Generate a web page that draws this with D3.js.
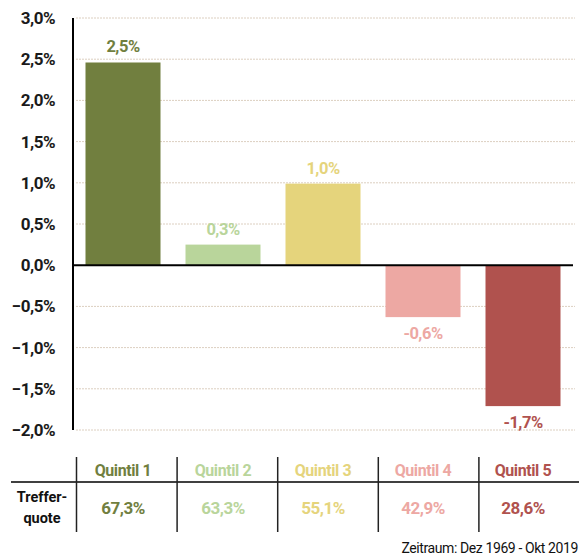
<!DOCTYPE html>
<html>
<head>
<meta charset="utf-8">
<script src="https://cdn.jsdelivr.net/npm/d3@7"></script>
<style>
  body { margin: 0; background: #fff; }
  svg { font-family: "Roboto", "Noto Sans", sans-serif; }
</style>
</head>
<body>
<div id="chart"></div>
<script>
// chart data
var quintils = ["Quintil 1", "Quintil 2", "Quintil 3", "Quintil 4", "Quintil 5"];
var returns = [2.46, 0.25, 0.99, -0.63, -1.71];
var returnLabels = ["2,5%", "0,3%", "1,0%", "-0,6%", "-1,7%"];
var hitRates = ["67,3%", "63,3%", "55,1%", "42,9%", "28,6%"];
var yTicks = [3, 2.5, 2, 1.5, 1, 0.5, 0, -0.5, -1, -1.5, -2];
var colours = ["#717f3f", "#b9d59b", "#e5d47c", "#eda8a3", "#b0524e"];

var width = 579, height = 555;
var plot = {left: 73, right: 573, top: 18, bottom: 430};

var svg = d3.select("#chart")
    .append("svg")
    .attr("width", width)
    .attr("height", height);

var x = d3.scaleBand()
    .domain(quintils)
    .range([plot.left, plot.right])
    .paddingInner(0.25)
    .paddingOuter(0.125);

var y = d3.scaleLinear()
    .domain([-2, 3])
    .range([plot.bottom, plot.top]);

var fmt = function(d) { return d3.format(".1f")(d).replace(".", ",") + "%"; };

// dashed grid lines
svg.append("g")
    .selectAll("line")
    .data(yTicks.filter(function(d) { return d !== 0; }))
    .enter()
    .append("line")
    .attr("x1", plot.left + 3)
    .attr("x2", 575)
    .attr("y1", function(d) { return y(d); })
    .attr("y2", function(d) { return y(d); })
    .attr("stroke", "#dccfc0")
    .attr("stroke-width", 1)
    .attr("stroke-dasharray", "2,1");

// tick labels
svg.append("g")
    .selectAll("text")
    .data(yTicks)
    .enter()
    .append("text")
    .attr("x", 55)
    .attr("y", function(d) { return y(d); })
    .attr("dy", "0.35em")
    .attr("text-anchor", "end")
    .attr("font-size", "17px")
    .attr("font-weight", "bold")
    .attr("letter-spacing", "-0.5px")
    .attr("fill", "#1a1a1a")
    .text(fmt);

// bars
svg.append("g")
    .selectAll("rect")
    .data(returns)
    .enter()
    .append("rect")
    .attr("x", function(d, i) { return x(quintils[i]); })
    .attr("y", function(d) { return y(Math.max(0, d)); })
    .attr("width", x.bandwidth())
    .attr("height", function(d) { return Math.abs(y(d) - y(0)); })
    .attr("fill", function(d, i) { return colours[i]; });

// value labels
svg.append("g")
    .selectAll("text")
    .data(returns)
    .enter()
    .append("text")
    .attr("x", function(d, i) { return x(quintils[i]) + x.bandwidth() / 2; })
    .attr("y", function(d) { return d >= 0 ? y(d) - 10 : y(d) + 22; })
    .attr("text-anchor", "middle")
    .attr("font-size", "16.5px")
    .attr("font-weight", "bold")
    .attr("letter-spacing", "-0.5px")
    .attr("fill", function(d, i) { return colours[i]; })
    .text(function(d, i) { return returnLabels[i]; });

// zero line and y axis
svg.append("line")
    .attr("x1", plot.left).attr("x2", plot.right)
    .attr("y1", y(0)).attr("y2", y(0))
    .attr("stroke", "#000").attr("stroke-width", 2);

svg.append("line")
    .attr("x1", plot.left).attr("x2", plot.left)
    .attr("y1", plot.top).attr("y2", plot.bottom)
    .attr("stroke", "#000").attr("stroke-width", 2);

// table below the chart
var table = {top: 457, line: 482, bottom: 532};

svg.append("line")
    .attr("x1", 11).attr("x2", width)
    .attr("y1", table.line).attr("y2", table.line)
    .attr("stroke", "#000").attr("stroke-width", 1.5);

svg.append("g")
    .selectAll("line")
    .data(quintils)
    .enter()
    .append("line")
    .attr("x1", function(d, i) { return x(d) - 9 + i * 0.6; })
    .attr("x2", function(d, i) { return x(d) - 9 + i * 0.6; })
    .attr("y1", table.top)
    .attr("y2", table.bottom)
    .attr("stroke", "#222")
    .attr("stroke-width", 1.5);

svg.append("g")
    .selectAll("text")
    .data(quintils)
    .enter()
    .append("text")
    .attr("x", function(d) { return x(d) + x.bandwidth() / 2; })
    .attr("y", 476)
    .attr("text-anchor", "middle")
    .attr("font-size", "16px")
    .attr("font-weight", "bold")
    .attr("letter-spacing", "-0.4px")
    .attr("fill", function(d, i) { return colours[i]; })
    .text(function(d) { return d; });

svg.append("g")
    .selectAll("text")
    .data(hitRates)
    .enter()
    .append("text")
    .attr("x", function(d, i) { return x(quintils[i]) + x.bandwidth() / 2; })
    .attr("y", 514)
    .attr("text-anchor", "middle")
    .attr("font-size", "17px")
    .attr("font-weight", "bold")
    .attr("letter-spacing", "-0.5px")
    .attr("fill", function(d, i) { return colours[i]; })
    .text(function(d) { return d; });

svg.append("text")
    .attr("x", 42).attr("y", 502)
    .attr("text-anchor", "middle")
    .attr("font-size", "14.5px")
    .attr("font-weight", "bold")
    .attr("fill", "#111")
    .text("Treffer-");

svg.append("text")
    .attr("x", 42).attr("y", 523)
    .attr("text-anchor", "middle")
    .attr("font-size", "14.5px")
    .attr("font-weight", "bold")
    .attr("fill", "#111")
    .text("quote");

svg.append("text")
    .attr("x", 578).attr("y", 553)
    .attr("text-anchor", "end")
    .attr("font-size", "14px")
    .attr("letter-spacing", "-0.4px")
    .attr("fill", "#111")
    .text("Zeitraum: Dez 1969 - Okt 2019");
</script>
</body>
</html>
